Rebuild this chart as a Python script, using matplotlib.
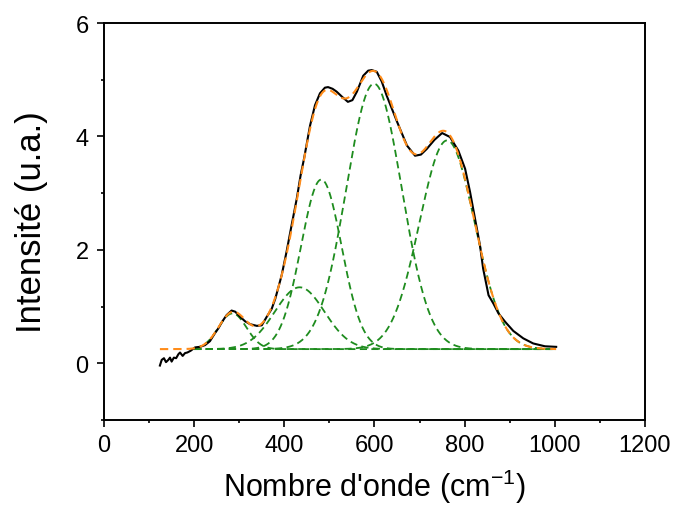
import numpy as np
import matplotlib
matplotlib.use("Agg")
import matplotlib.pyplot as plt

plt.rcParams['font.family'] = ['Liberation Sans', 'DejaVu Sans']
plt.rcParams['mathtext.fontset'] = 'custom'
plt.rcParams['mathtext.rm'] = 'Liberation Sans'
plt.rcParams['mathtext.it'] = 'Liberation Sans'

wavenumber = [124, 128, 133, 137.5, 142.7, 146.4, 150, 155, 160, 165, 168.6, 174.5, 179.7, 184.8, 192, 202, 213, 224, 235, 246, 254, 261, 272, 283, 291, 302, 313, 324, 339, 350, 361, 372, 380, 394, 405, 416, 427.5, 436, 444, 457, 468, 479, 490, 497, 507, 516, 528, 541, 551, 561, 575, 586, 594, 605, 616, 627, 650, 672, 690, 703, 716, 733, 750, 767.5, 786, 801, 812, 823, 834, 841, 853, 864, 875, 890, 908, 930, 952, 978, 1003]
intensity = [-0.04, 0.06, 0.09, 0.02, 0.06, 0.10, 0.03, 0.10, 0.09, 0.16, 0.19, 0.13, 0.18, 0.19, 0.22, 0.28, 0.29, 0.32, 0.39, 0.53, 0.62, 0.72, 0.85, 0.93, 0.91, 0.82, 0.74, 0.69, 0.66, 0.67, 0.82, 0.96, 1.14, 1.55, 1.97, 2.43, 2.90, 3.31, 3.62, 4.19, 4.55, 4.76, 4.86, 4.87, 4.84, 4.79, 4.70, 4.61, 4.64, 4.79, 5.07, 5.16, 5.17, 5.14, 4.97, 4.72, 4.26, 3.84, 3.66, 3.68, 3.78, 3.94, 4.06, 3.99, 3.75, 3.43, 3.02, 2.55, 2.08, 1.67, 1.20, 1.05, 0.88, 0.73, 0.57, 0.44, 0.35, 0.30, 0.29]

# Gaussian deconvolution components
baseline = 0.25
peak_amplitudes = [0.63, 1.09, 2.99, 4.68, 3.68]
peak_centers = [285, 434, 482, 599, 761]
peak_widths = [31, 55, 45, 61.4, 61.2]
fit_range = [124, 1003]
component_range = [200, 1003]


def gaussian(xx, a, c, s):
    return a * np.exp(-(xx - c) ** 2 / (2 * s ** 2))


fig = plt.figure(figsize=(6.78, 5.10), dpi=100)
ax = fig.add_axes([0.1534, 0.1745, 0.7979, 0.7784])

xg = np.linspace(component_range[0], component_range[1], 800)
for a, c, s in zip(peak_amplitudes, peak_centers, peak_widths):
    ax.plot(xg, baseline + gaussian(xg, a, c, s), color='#1e8c1e', lw=1.3, ls=(0, (4, 2.4)))

ax.plot(wavenumber, intensity, color='black', lw=1.5)

xf = np.linspace(fit_range[0], fit_range[1], 800)
total = np.full_like(xf, baseline)
for a, c, s in zip(peak_amplitudes, peak_centers, peak_widths):
    total += gaussian(xf, a, c, s)
ax.plot(xf, total, color='#ff8c1a', lw=1.5, ls=(0, (4, 2.4)))

ax.set_xlim(0, 1200)
ax.set_ylim(-1, 6)
ax.set_xticks(np.arange(0, 1201, 200))
ax.set_xticks(np.arange(100, 1200, 200), minor=True)
ax.set_yticks([0, 2, 4, 6])
ax.set_yticks([-1, 1, 3, 5], minor=True)
ax.tick_params(which='major', direction='out', length=5, width=1.2, labelsize=17)
ax.tick_params(which='minor', direction='out', length=2.5, width=1.2)
ax.tick_params(axis='x', pad=5)
ax.tick_params(axis='y', pad=6)
for s in ax.spines.values():
    s.set_linewidth(1.4)
ax.set_xlabel(r"Nombre d'onde (cm$^{\mathregular{-1}}$)", fontsize=22, labelpad=8)
ax.set_ylabel("Intensité (u.a.)", fontsize=25, labelpad=20)
plt.savefig("out.png", dpi=100)
